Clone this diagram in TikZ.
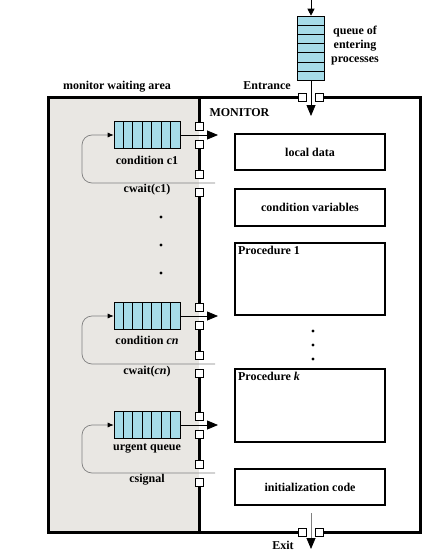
\documentclass[tikz,border=0pt]{standalone}
\usepackage{fontspec}
\setmainfont{Liberation Serif}
\usetikzlibrary{arrows.meta,positioning,calc}
\definecolor{qblue}{HTML}{A6DCE9}
\definecolor{areagray}{HTML}{E9E7E3}
\begin{document}
\begin{tikzpicture}[
  x=1pt, y=-1pt,
  font=\bfseries\fontsize{12}{14}\selectfont,
  wall/.style={line width=3pt},
  box/.style={
    draw,
    line width=2.2pt,
    minimum width=150pt,
    inner sep=0pt
  },
  queue/.style={
    draw,
    fill=qblue,
    line width=0.6pt,
    minimum width=66pt,
    minimum height=27pt,
    inner sep=0pt
  },
  port/.style={draw, fill=white, line width=0.6pt, minimum size=8pt, inner sep=0pt},
  flow/.style={-{Triangle[length=11pt,width=9pt]}, line width=0.8pt},
  back/.style={draw=black!50, line width=0.7pt, rounded corners=10pt,
    -{Latex[length=6pt,width=5pt,color=black]}},
  dot/.style={circle, fill, inner sep=1.1pt}
]
\useasboundingbox (0,0) rectangle (432,551);
\fill[areagray] (48,97) rectangle (199,532);

\node[queue, minimum width=27pt, minimum height=64pt] (qin) at (311,48) {};
\foreach \i in {1,...,6}
  \draw[line width=0.6pt] ($(qin.north west)!\i/7!(qin.south west)$) -- ($(qin.north east)!\i/7!(qin.south east)$);
\node[align=center] (qtext) at (355,46) {queue of\\entering\\processes};
\node (entr) at (267,86) {Entrance};
\node (wait) at (117,87) {monitor waiting area};
\node[anchor=west] (mon) at (206,113) {MONITOR};

\node[port] (ein1) at (302,97) {};
\node[port] (ein2) at (319,97) {};
\node[port] (ex1) at (302,532) {};
\node[port] (ex2) at (319,532) {};
\draw[wall] (ein1.west) -- (48,97) -- (48,532) -- (ex1.west);
\draw[wall] (ein2.east) -- (420,97) -- (420,532) -- (ex2.east);

\coordinate (src) at (311,0);
\coordinate (enter) at (311,116);
\coordinate (leave) at (311,513);
\coordinate (sink) at (311,549);
\draw[-{Triangle[length=7pt,width=7pt]}, line width=0.8pt] (src) -- (qin.north);
\draw[flow] (qin.south) -- (enter);
\draw[draw=black!50, line width=0.8pt, -{Triangle[length=11pt,width=9pt,color=black]}] (leave) -- (sink);
\node (exit) at (283,545) {Exit};

\node[box, minimum height=36pt] (local) at (310,152) {local data};
\node[box, minimum height=37pt] (cvars) at (310,207.5) {condition variables};
\node[box, minimum height=72pt,
  label={[anchor=north west, inner sep=0pt, xshift=4pt, yshift=-4pt]north west:Procedure 1}] (proc1) at (310,279) {};
\node[box, minimum height=73pt,
  label={[anchor=north west, inner sep=0pt, xshift=4pt, yshift=-4pt]north west:Procedure \textit{k}}] (prock) at (310,405.5) {};
\node[box, minimum height=36pt] (init) at (310,487) {initialization code};
\node[dot] (r1) at (313,331) {};
\node[dot] (r2) at (313,345) {};
\node[dot] (r3) at (313,359) {};

\node[queue] (q1) at (147,135) {};
\node[queue] (qn) at (147,316) {};
\node[queue] (qu) at (147,425) {};
\foreach \q in {q1,qn,qu}
  \foreach \i in {1,...,6}
    \draw[line width=0.6pt] ($(\q.south west)!\i/7!(\q.south east)$) -- ($(\q.north west)!\i/7!(\q.north east)$);
\node (c1) at (147,160) {condition c1};
\node (w1) at (147,190) {cwait(c1)};
\node (cn) at (147,340) {condition \textit{cn}};
\node (wn) at (147,372) {cwait(\textit{cn})};
\node (cu) at (147,448) {urgent queue};
\node (wu) at (147,480) {csignal};
\node[dot] (l1) at (161,217) {};
\node[dot] (l2) at (161,245) {};
\node[dot] (l3) at (161,273) {};

\foreach \n/\y in {1/126,2/144,3/174,4/192,5/307,6/325,7/355,8/373,9/416,10/434,11/464,12/482}
  \node[port] (p\n) at (199,\y) {};
\draw[wall] (199,97) -- (p1.north);
\foreach \a/\b in {2/3,4/5,6/7,8/9,10/11}
  \draw[wall] (p\a.south) -- (p\b.north);
\draw[wall] (p12.south) -- (199,532);

\coordinate (a1) at (218,135);
\coordinate (an) at (218,316);
\coordinate (au) at (218,425);
\draw[flow] (q1.east) -- (a1);
\draw[flow] (qn.east) -- (an);
\draw[flow] (qu.east) -- (au);

\coordinate (b1) at (215,183);
\coordinate (bn) at (215,364);
\coordinate (bu) at (215,473);
\draw[back] (b1) -- (82,183) -- (82,135) -- (q1.west);
\draw[back] (bn) -- (82,364) -- (82,316) -- (qn.west);
\draw[back] (bu) -- (82,473) -- (82,425) -- (qu.west);
\end{tikzpicture}
\end{document}
